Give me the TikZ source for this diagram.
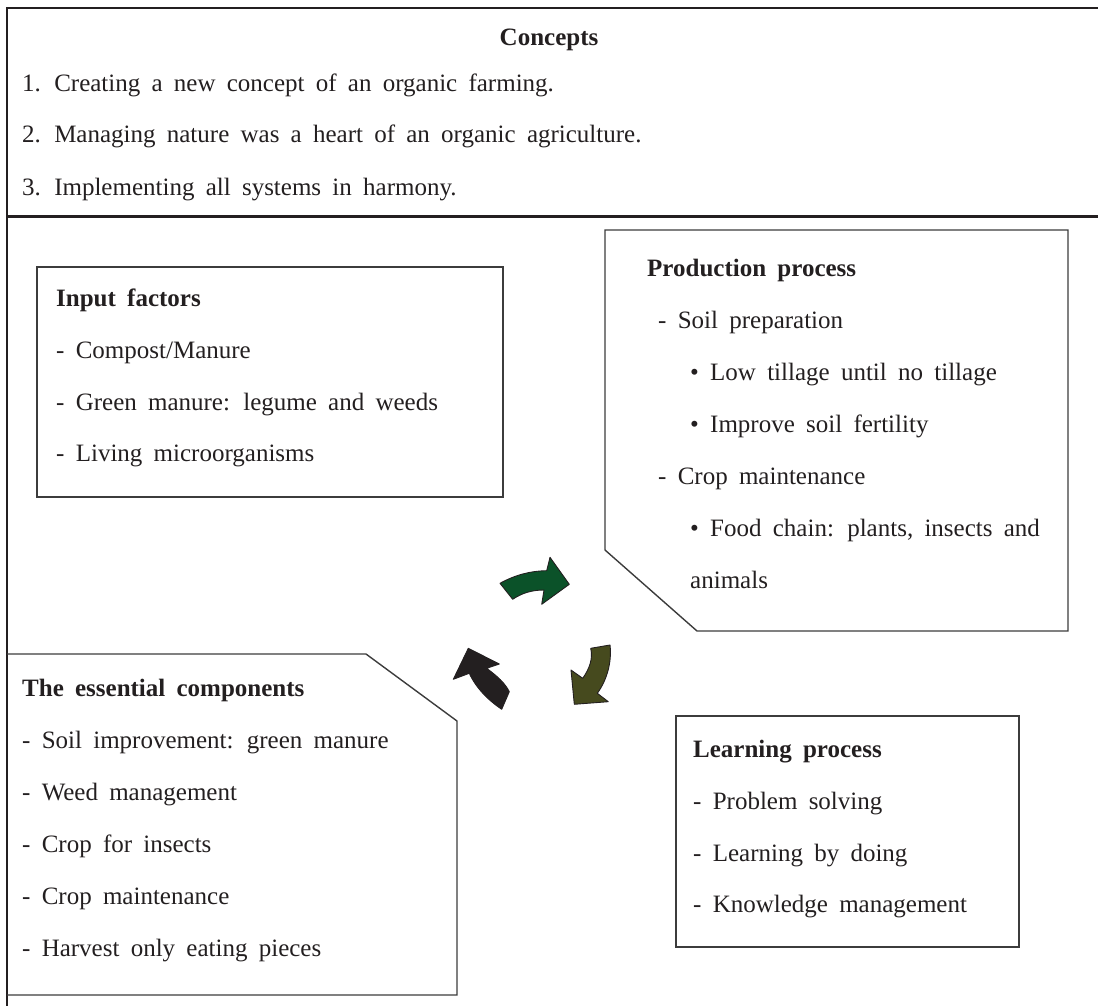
\documentclass[tikz,border=0pt]{standalone}
\usepackage{fontspec}
\setmainfont{Liberation Serif}[WordSpace=1.8]
\definecolor{ink}{HTML}{231F20}
\definecolor{boxgray}{HTML}{3C3C3C}
\definecolor{arrgreen}{HTML}{0B5229}
\definecolor{arrolive}{HTML}{464A1E}
\definecolor{arrblack}{HTML}{231F20}
\tikzset{
  txt/.style={anchor=west, inner sep=0pt, font=\fontsize{25}{30}\selectfont, text=ink, text height=17pt, text depth=5pt},
  ttl/.style={txt, font=\fontsize{25}{30}\selectfont\bfseries},
  frameline/.style={line width=2.5pt, draw=ink},
  boxline/.style={line width=1.4pt, draw=boxgray},
  blockarrow/.style={draw=ink, line width=0.9pt, line join=round},
}
\begin{document}
\begin{tikzpicture}[x=1pt,y=-1pt]
\useasboundingbox (0,0) rectangle (1098,1006);
% frame
\draw[frameline] (1098,8) -- (7,8) -- (7,1006);
\draw[frameline] (7,216.5) -- (1098,216.5);
% concepts
\node[ttl, anchor=center] (ctitle) at (549,40) {Concepts};
\node[txt] (c1) at (22,86) {1. Creating a new concept of an organic farming.};
\node[txt] (c2) at (22,137) {2. Managing nature was a heart of an organic agriculture.};
\node[txt] (c3) at (22,189) {3. Implementing all systems in harmony.};
% input factors
\draw[boxline] (37,267) rectangle (503,497);
\node[ttl] (it) at (56,300) {Input factors};
\node[txt] (i1) at (56,352) {- Compost/Manure};
\node[txt] (i2) at (56,404) {- Green manure: legume and weeds};
\node[txt] (i3) at (56,455) {- Living microorganisms};
% production process
\draw[boxline] (605,230) -- (1068,230) -- (1068,631) -- (697,631) -- (605,550) -- cycle;
\node[ttl] (pt) at (647,270) {Production process};
\node[txt] (p1) at (658,322) {- Soil preparation};
\node[txt] (p2) at (690,374) {• Low tillage until no tillage};
\node[txt] (p3) at (690,426) {• Improve soil fertility};
\node[txt] (p4) at (658,478) {- Crop maintenance};
\node[txt] (p5) at (690,530) {• Food chain: plants, insects and};
\node[txt] (p6) at (690,582) {animals};
% essential components
\draw[boxline] (7,654) -- (366,654) -- (457,721) -- (457,995) -- (7,995);
\node[ttl] (et) at (22,690) {The essential components};
\node[txt] (e1) at (22,742) {- Soil improvement: green manure};
\node[txt] (e2) at (22,794) {- Weed management};
\node[txt] (e3) at (22,846) {- Crop for insects};
\node[txt] (e4) at (22,898) {- Crop maintenance};
\node[txt] (e5) at (22,950) {- Harvest only eating pieces};
% learning process
\draw[boxline] (676,716) rectangle (1019,947);
\node[ttl] (lt) at (693,751) {Learning process};
\node[txt] (l1) at (693,803) {- Problem solving};
\node[txt] (l2) at (693,855) {- Learning by doing};
\node[txt] (l3) at (693,906) {- Knowledge management};
% cycle arrows
\filldraw[blockarrow, fill=arrgreen] (500,583.3) .. controls (515,575) and (530,571) .. (546.7,570.7) -- (550,557.3) -- (569.3,584.3) -- (541.7,604.3) -- (544,590) .. controls (532,590) and (522,593) .. (512.7,599.3) -- cycle;
\filldraw[blockarrow, fill=arrolive] (590.7,648.3) -- (610,645) .. controls (612,662) and (607,680) .. (597.3,693.3) -- (608.3,701.7) -- (574.3,704.3) -- (571,670) -- (582.7,678.3) .. controls (590,668) and (593,658) .. (590.7,648.3) -- cycle;
\filldraw[blockarrow, fill=arrblack] (468.3,648.3) -- (499.3,664) -- (486.7,668.3) .. controls (497,676) and (505,683) .. (509.3,691.7) -- (501.7,709.3) .. controls (488,700) and (476,688) .. (469.3,673.3) -- (453.3,679.3) -- cycle;
\end{tikzpicture}
\end{document}
